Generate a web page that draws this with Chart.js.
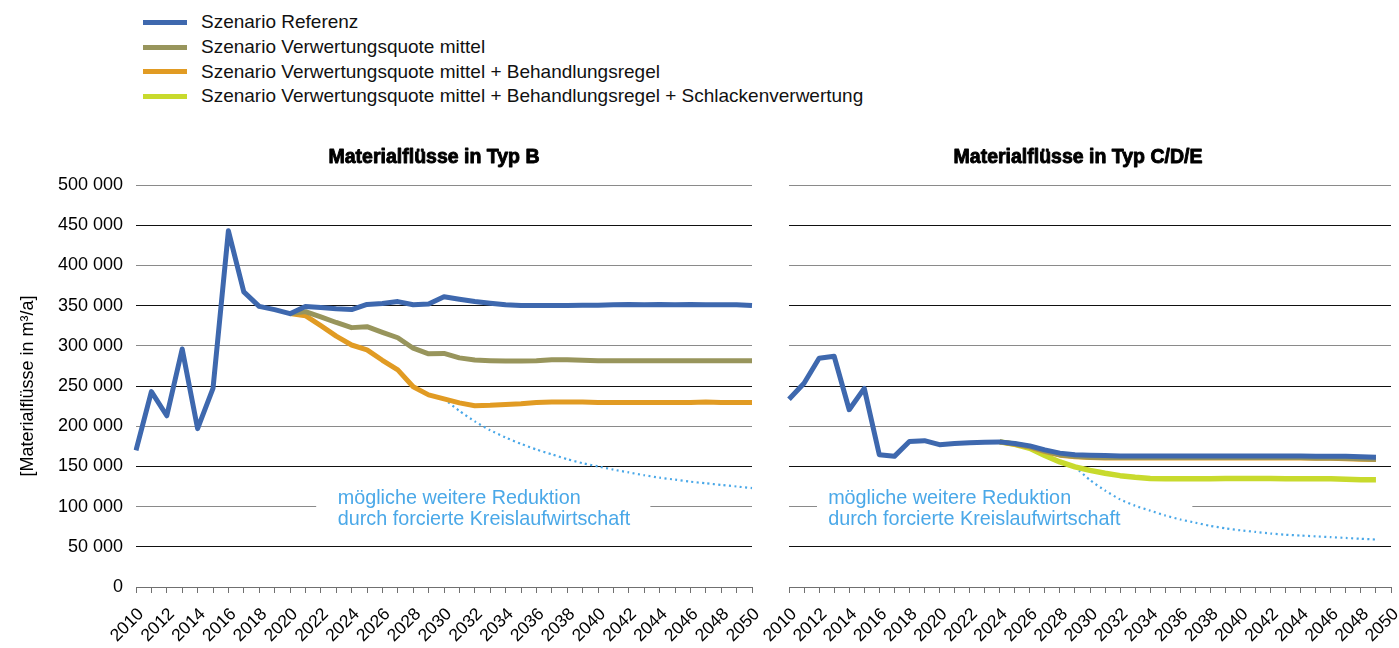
<!DOCTYPE html>
<html lang="de">
<head>
<meta charset="utf-8">
<title>Materialflüsse</title>
<script src="https://cdn.jsdelivr.net/npm/chart.js@4.4.1/dist/chart.umd.min.js"></script>
<style>
  html, body { margin: 0; padding: 0; background: #fff; }
  body { width: 1399px; height: 648px; position: relative; overflow: hidden; font-family: "Liberation Sans", Arial, sans-serif; }
  canvas { position: absolute; top: 0; }
  #chartB { left: 0; }
  #chartCDE { left: 740px; }
  #legend { position: absolute; left: 143px; top: 10px; }
  .lg-row { display: flex; align-items: center; height: 24.7px; }
  .lg-swatch { width: 44px; height: 5px; margin-right: 14px; }
  .lg-text { font-family: "Liberation Sans Narrow", "Liberation Sans", sans-serif; font-size: 19px; color: #111; white-space: nowrap; }
</style>
</head>
<body>
<div id="legend"></div>
<canvas id="chartB" width="770" height="648"></canvas>
<canvas id="chartCDE" width="659" height="648"></canvas>

<script>
// --- data ---
const years = ["2010","2011","2012","2013","2014","2015","2016","2017","2018","2019",
  "2020","2021","2022","2023","2024","2025","2026","2027","2028","2029",
  "2030","2031","2032","2033","2034","2035","2036","2037","2038","2039",
  "2040","2041","2042","2043","2044","2045","2046","2047","2048","2049","2050"];

const seriesNames = [
  "Szenario Referenz",
  "Szenario Verwertungsquote mittel",
  "Szenario Verwertungsquote mittel + Behandlungsregel",
  "Szenario Verwertungsquote mittel + Behandlungsregel + Schlackenverwertung"
];
const seriesColors = ["#3e68ae", "#98955c", "#e19b23", "#c8da2d"];
const potentialColor = "#4aa8e8";
const noteLines = ["mögliche weitere Reduktion", "durch forcierte Kreislaufwirtschaft"];

// Typ B
const refB = [170000, 243000, 213000, 296000, 197000, 247000, 443000, 367000, 349000, 345000,
  340000, 349000, 347500, 346000, 345000, 351500, 352500, 355000, 351000, 352000,
  361000, 358000, 355000, 353000, 351000, 350000, 350000, 350000, 350000, 350500,
  350500, 351000, 351500, 351000, 351500, 351000, 351500, 351000, 351000, 351000, 350000];
const vqB = [null, null, null, null, null, null, null, null, null, null,
  340000, 342500, 336000, 329000, 322600, 323800, 316800, 310000, 297000, 290000,
  290500, 285000, 282400, 281500, 281000, 281000, 281500, 282500, 282500, 282000,
  281500, 281500, 281500, 281500, 281500, 281500, 281500, 281500, 281500, 281500, 281500];
const bhB = [null, null, null, null, null, null, null, null, null, null,
  340000, 337500, 325000, 312000, 301000, 295000, 282000, 270000, 249000, 239000,
  234000, 229000, 225500, 226000, 227000, 228000, 229500, 230000, 230000, 230000,
  229500, 229500, 229500, 229500, 229500, 229500, 229500, 230000, 229500, 229500, 229500];
const potB = [null, null, null, null, null, null, null, null, null, null,
  null, null, null, null, null, null, null, null, null, null,
  234000, 219000, 206000, 195000, 186000, 178000, 171000, 165000, 159000, 154000,
  150000, 146000, 142500, 139000, 136000, 133500, 131000, 129000, 127000, 125000, 123000];

// Typ C/D/E
const refC = [233500, 253500, 284500, 287000, 220500, 247000, 164500, 162500, 181000, 182000,
  177000, 178500, 179500, 180000, 180500, 178500, 175500, 170500, 166500, 164500,
  164000, 163500, 163000, 163000, 163000, 163000, 163000, 163000, 163000, 163000,
  163000, 163000, 163000, 163000, 163000, 162500, 162500, 162500, 162000, 161500, null];
const vqC = [null, null, null, null, null, null, null, null, null, null,
  null, null, null, null, 180500, 178000, 174500, 169000, 164500, 162500,
  161500, 161000, 161000, 161000, 161000, 161000, 161000, 161000, 161000, 161000,
  161000, 161000, 161000, 161000, 161000, 160500, 160500, 160000, 159500, 159000, null];
const bhC = [null, null, null, null, null, null, null, null, null, null,
  null, null, null, null, 180500, 177500, 174000, 168500, 164000, 162000,
  161000, 160500, 160500, 160500, 160500, 160500, 160500, 160500, 160500, 160500,
  160500, 160500, 160500, 160500, 160500, 160000, 160000, 159500, 159000, 158500, null];
const ylC = [null, null, null, null, null, null, null, null, null, null,
  null, null, null, null, 180500, 177500, 172500, 163500, 155500, 149500,
  145000, 141500, 138500, 136500, 135000, 134500, 134500, 134500, 134500, 135000,
  135000, 135000, 135000, 134500, 134500, 134500, 134500, 134000, 133500, 133500, null];
const potC = [null, null, null, null, null, null, null, null, null, null,
  null, null, null, null, null, null, null, null, null, 149500,
  133000, 120000, 109000, 101000, 95000, 89000, 84000, 80000, 76000, 73000,
  70500, 68500, 66500, 65000, 64000, 63000, 62000, 61000, 60000, 59000, null];

// --- legend ---
const legendEl = document.getElementById("legend");
legendEl.innerHTML = seriesNames.map((n, i) =>
  `<div class="lg-row"><span class="lg-swatch" style="background:${seriesColors[i]}"></span><span class="lg-text">${n}</span></div>`
).join("");

// --- helpers ---
const FONT = "'Liberation Sans', Arial, sans-serif";
function fmt(v) { return String(v).replace(/\B(?=(\d{3})+(?!\d))/g, " "); }

function line(label, data, color, width) {
  return { label, data, borderColor: color, backgroundColor: color, borderWidth: width || 5,
    pointRadius: 0, tension: 0, borderJoinStyle: "round", spanGaps: false };
}
function potential(data) {
  return { label: "Potenzial", data, borderColor: potentialColor, borderWidth: 2.2,
    borderDash: [2, 3.4], pointRadius: 0, tension: 0.2 };
}

const panelDeco = {
  id: "panelDeco",
  beforeDatasetsDraw(chart, args, o) {
    const { ctx, scales: { x, y } } = chart;
    ctx.save();
    const x0 = x.getPixelForValue(o.boxFrom), x1 = x.getPixelForValue(o.boxTo);
    const yt = y.getPixelForValue(125000), yb = y.getPixelForValue(70000);
    ctx.fillStyle = "#fff";
    ctx.fillRect(x0, yt, x1 - x0, yb - yt);
    ctx.fillStyle = potentialColor;
    ctx.font = "19.8px " + FONT;
    ctx.textBaseline = "alphabetic";
    ctx.textAlign = "left";
    const tx = x.getPixelForValue(o.textAt);
    ctx.fillText(noteLines[0], tx, y.getPixelForValue(103000));
    ctx.fillText(noteLines[1], tx, y.getPixelForValue(77000));
    ctx.restore();
  },
  afterDraw(chart, args, o) {
    const { ctx, chartArea } = chart;
    ctx.save();
    ctx.fillStyle = "#000";
    ctx.strokeStyle = "#000";
    ctx.lineWidth = 0.9;
    ctx.lineJoin = "round";
    ctx.font = "bold 19.5px " + FONT;
    ctx.textAlign = "center";
    ctx.textBaseline = "middle";
    const tx = (chartArea.left + chartArea.right) / 2 + o.titleShift;
    ctx.fillText(o.title, tx, 158);
    ctx.strokeText(o.title, tx, 158);
    ctx.restore();
  }
};

function scales(showY) {
  return {
    x: {
      type: "category", offset: false,
      grid: { display: true, drawOnChartArea: false, drawTicks: true, tickLength: 6, color: "#707070" },
      border: { display: true, color: "#707070" },
      ticks: { autoSkip: false, minRotation: 45, maxRotation: 45, padding: 11, labelOffset: 5,
        color: "#000", font: { size: 17.5, family: FONT },
        callback: (v, i) => (i % 2 === 0 ? years[i] : "") },
      afterFit: s => { s.height = 61; s.paddingLeft = 0; s.paddingRight = 0; }
    },
    y: {
      min: 0, max: 500000,
      ticks: { stepSize: 50000, display: showY, padding: 13, color: "#000",
        font: { size: 18, family: FONT }, callback: v => fmt(v) },
      grid: { drawTicks: false, lineWidth: 1,
        color: c => (c.tick && c.tick.value % 100000 === 0 ? "#8a8a8a" : "#111") },
      border: { display: false },
      title: { display: showY, text: "[Materialflüsse in m³/a]", color: "#000",
        font: { size: 18, family: FONT }, padding: { top: 17, bottom: 0 } },
      afterFit: s => { s.width = showY ? 136 : 0; }
    }
  };
}

function makeChart(id, datasets, showY, padding, deco) {
  return new Chart(document.getElementById(id), {
    type: "line",
    data: { labels: years, datasets },
    options: {
      responsive: false, animation: false, devicePixelRatio: 1,
      layout: { padding },
      plugins: { legend: { display: false }, tooltip: { enabled: false }, panelDeco: deco },
      scales: scales(showY)
    },
    plugins: [panelDeco]
  });
}

makeChart("chartB", [
  line(seriesNames[0], refB, seriesColors[0]),
  line(seriesNames[1], vqB, seriesColors[1]),
  line(seriesNames[2], bhB, seriesColors[2]),
  potential(potB)
], true, { left: 0, top: 185, right: 18, bottom: 0 },
  { title: "Materialflüsse in Typ B", titleShift: -10, boxFrom: 11.7, boxTo: 33.4, textAt: 13.1 });

makeChart("chartCDE", [
  line(seriesNames[0], refC, seriesColors[0]),
  line(seriesNames[1], vqC, seriesColors[1]),
  line(seriesNames[2], bhC, seriesColors[2]),
  line(seriesNames[3], ylC, seriesColors[3], 5.5),
  potential(potC)
], false, { left: 49, top: 185, right: 8, bottom: 0 },
  { title: "Materialflüsse in Typ C/D/E", titleShift: -12, boxFrom: 1.86, boxTo: 26.8, textAt: 2.6 });
</script>
</body>
</html>
